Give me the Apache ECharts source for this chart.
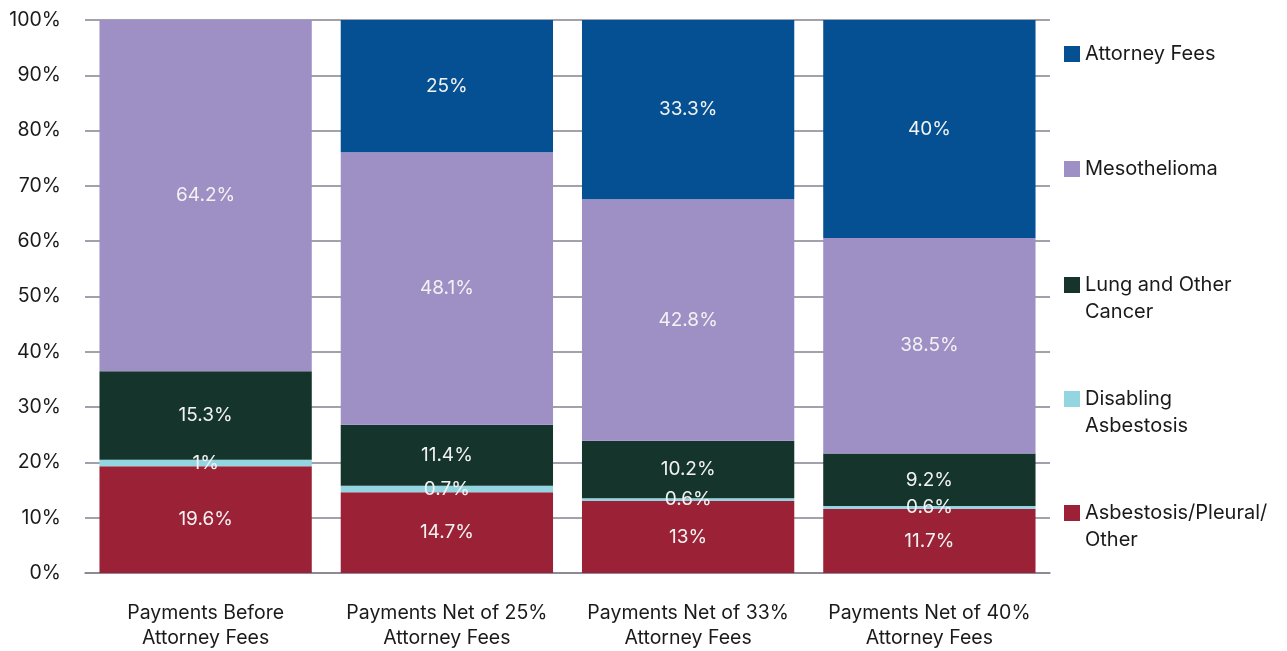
<!DOCTYPE html>
<html>
<head>
<meta charset="utf-8">
<script src="https://cdn.jsdelivr.net/npm/echarts@6/dist/echarts.min.js"></script>
<style>
  html, body { margin: 0; padding: 0; background: #fff; }
  #chart { width: 1287px; height: 651px; }
</style>
</head>
<body>
<div id="chart"></div>
<script>
const categories = [
  'Payments Before\nAttorney Fees',
  'Payments Net of 25%\nAttorney Fees',
  'Payments Net of 33%\nAttorney Fees',
  'Payments Net of 40%\nAttorney Fees'
];
// segment heights as drawn in the picture (percent of bar)
const asbestosisOther = [19.3, 14.6, 13.0, 11.6];
const disablingAsbestosis = [1.2, 1.2, 0.5, 0.5];
const lungCancer = [16.0, 11.0, 10.4, 9.5];
const mesothelioma = [63.5, 49.3, 43.7, 39.0];
const attorneyFees = [0, 23.9, 32.4, 39.4];
// label texts printed on the segments
const asbestosisOtherLabels = ['19.6%', '14.7%', '13%', '11.7%'];
const disablingAsbestosisLabels = ['1%', '0.7%', '0.6%', '0.6%'];
const lungCancerLabels = ['15.3%', '11.4%', '10.2%', '9.2%'];
const mesotheliomaLabels = ['64.2%', '48.1%', '42.8%', '38.5%'];
const attorneyFeesLabels = ['', '25%', '33.3%', '40%'];

const seriesDefs = [
  { name: 'Asbestosis/Pleural/\nOther', data: asbestosisOther, labels: asbestosisOtherLabels, color: '#9b2236' },
  { name: 'Disabling\nAsbestosis', data: disablingAsbestosis, labels: disablingAsbestosisLabels, color: '#93d5e0' },
  { name: 'Lung and Other\nCancer', data: lungCancer, labels: lungCancerLabels, color: '#15352c' },
  { name: 'Mesothelioma', data: mesothelioma, labels: mesotheliomaLabels, color: '#9e90c5' },
  { name: 'Attorney Fees', data: attorneyFees, labels: attorneyFeesLabels, color: '#055092' }
];

const font = 'Inter, Roboto, sans-serif';
const chart = echarts.init(document.getElementById('chart'));

// y of the first text line of each legend entry
const legendY = [513, 399, 285, 169, 54];
const lh = 27;

const legends = seriesDefs.map((s, i) => {
  const multi = s.name.indexOf('\n') >= 0;
  return {
    orient: 'vertical',
    left: 1064,
    top: legendY[i] - (multi ? lh * 1.5 : lh / 2),
    padding: 0,
    itemWidth: 16,
    itemHeight: 16,
    selectedMode: false,
    icon: 'rect',
    data: [s.name],
    // leading blank line keeps the icon level with the first text line
    formatter: name => (name.indexOf('\n') >= 0 ? '\n' + name : name),
    textStyle: { fontFamily: font, fontSize: 20, color: '#1a1a1a', lineHeight: lh }
  };
});

chart.setOption({
  animation: false,
  textStyle: { fontFamily: font },
  grid: { left: 85, right: 237, top: 20, bottom: 75 },
  legend: legends,
  xAxis: {
    type: 'category',
    data: categories,
    axisLine: { lineStyle: { color: '#858290', width: 1.5 } },
    axisTick: { show: false },
    axisLabel: { interval: 0, color: '#1a1a1a', fontSize: 19.5, lineHeight: 25, margin: 28, fontFamily: font }
  },
  yAxis: {
    type: 'value',
    min: 0,
    max: 100,
    interval: 10,
    axisLine: { show: false },
    axisTick: { show: false },
    axisLabel: { color: '#1a1a1a', fontSize: 19.5, margin: 24, formatter: '{value}%', fontFamily: font },
    splitLine: { lineStyle: { color: '#858290', width: 1.5 } }
  },
  series: seriesDefs.map(s => ({
    name: s.name,
    type: 'bar',
    stack: 'total',
    data: s.data,
    barCategoryGap: '12%',
    itemStyle: { color: s.color },
    label: {
      show: true,
      position: 'inside',
      color: '#f2f2f2',
      fontSize: 19,
      fontFamily: font,
      formatter: p => s.labels[p.dataIndex]
    }
  }))
});
</script>
</body>
</html>
